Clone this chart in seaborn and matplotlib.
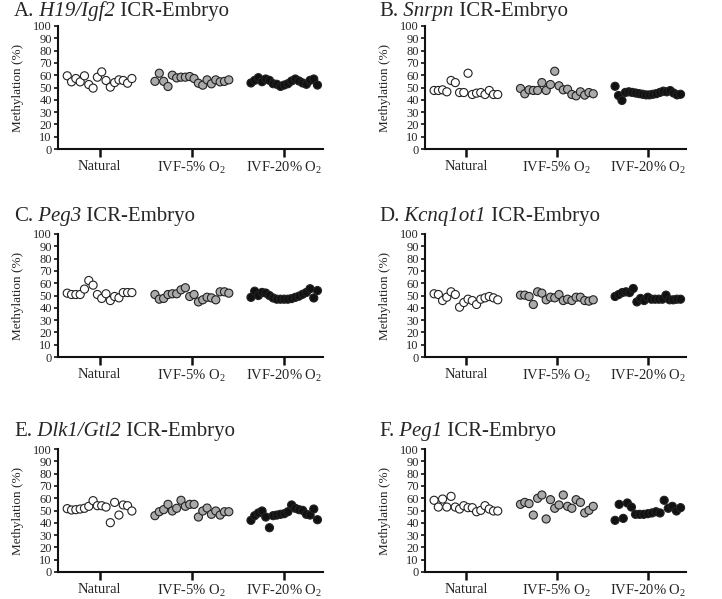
import numpy as np
import pandas as pd
import seaborn as sns
import matplotlib
matplotlib.use('Agg')
import matplotlib.pyplot as plt

sns.set_style('white')
plt.rcParams['font.family'] = ['Liberation Serif', 'DejaVu Serif']
plt.rcParams['mathtext.fontset'] = 'custom'
plt.rcParams['mathtext.rm'] = 'Liberation Serif'
plt.rcParams['mathtext.it'] = 'Liberation Serif:italic'

# Data (methylation %, each point one embryo)
groups = ['Natural', 'IVF-5% O$_2$', 'IVF-20% O$_2$']
panel_letters = ['A', 'B', 'C', 'D', 'E', 'F']
genes = ['H19/Igf2', 'Snrpn', 'Peg3', 'Kcnq1ot1', 'Dlk1/Gtl2', 'Peg1']

natural_A = [59.5, 54.6, 57.3, 54.6, 59.5, 52.4, 49.5, 58.4, 62.7, 55.7, 50.3, 54.0, 56.2, 55.7, 53.5, 57.3]
ivf5_A = [55.0, 61.6, 55.0, 50.8, 60.0, 57.8, 58.4, 58.4, 58.9, 57.3, 53.5, 51.9, 56.2, 53.0, 56.2, 54.6, 55.0, 56.2]
ivf20_A = [53.7, 55.8, 58.0, 54.7, 56.9, 55.8, 53.1, 52.6, 50.9, 52.0, 53.1, 55.3, 56.9, 55.3, 53.7, 52.6, 55.8, 56.9, 52.0]

natural_B = [47.6, 47.6, 48.1, 46.5, 55.7, 54.0, 45.9, 45.9, 61.6, 44.3, 45.4, 45.9, 44.3, 47.6, 44.3, 44.3]
ivf5_B = [49.2, 44.9, 48.1, 47.6, 47.6, 54.0, 47.6, 52.4, 63.2, 51.4, 48.1, 48.6, 44.3, 43.2, 46.5, 43.8, 45.9, 44.9]
ivf20_B = [51.0, 43.5, 39.5, 46.0, 46.5, 46.0, 45.5, 45.0, 44.5, 44.0, 44.0, 44.5, 45.0, 46.0, 47.0, 46.5, 47.5, 45.5, 44.0, 44.5]

natural_C = [51.9, 50.8, 50.8, 50.8, 55.2, 62.2, 58.4, 50.8, 47.6, 51.4, 45.9, 49.2, 48.1, 52.4, 52.4, 52.4]
ivf5_C = [50.8, 47.0, 47.6, 50.8, 51.4, 51.4, 54.6, 56.3, 49.2, 50.8, 44.8, 46.5, 48.6, 48.1, 46.5, 53.0, 53.0, 51.9]
ivf20_C = [48.5, 53.5, 50.0, 52.5, 52.0, 50.0, 48.0, 47.0, 47.0, 47.0, 47.0, 47.5, 48.5, 49.5, 51.0, 52.5, 55.5, 48.0, 54.0]

natural_D = [51.4, 50.8, 45.9, 48.6, 53.0, 50.8, 40.5, 44.3, 47.0, 45.9, 42.7, 47.0, 48.1, 49.2, 48.1, 46.5]
ivf5_D = [50.3, 50.3, 49.2, 42.7, 53.0, 51.9, 46.5, 48.6, 48.1, 50.8, 45.9, 47.0, 45.9, 48.6, 48.6, 45.9, 45.4, 46.5]
ivf20_D = [49.2, 50.8, 52.4, 53.0, 52.4, 55.7, 44.8, 47.6, 45.9, 48.6, 47.0, 47.0, 47.0, 47.0, 50.3, 46.5, 46.5, 47.0, 47.0]

natural_E = [51.5, 50.4, 50.7, 51.2, 51.8, 53.4, 58.0, 53.9, 53.9, 52.8, 40.1, 56.6, 46.3, 54.5, 53.9, 49.6]
ivf5_E = [45.8, 49.0, 50.7, 55.0, 49.6, 51.8, 58.3, 53.4, 55.0, 55.0, 44.7, 49.6, 52.0, 46.9, 49.6, 46.3, 49.0, 49.0]
ivf20_E = [42.0, 45.8, 48.0, 49.6, 44.7, 36.0, 45.8, 46.3, 46.9, 47.4, 49.0, 54.5, 51.8, 50.7, 50.1, 46.9, 46.3, 51.2, 42.5]

natural_F = [58.3, 52.8, 59.3, 52.8, 61.5, 52.8, 51.2, 53.9, 52.3, 52.3, 49.0, 50.1, 53.9, 51.2, 49.6, 49.6]
ivf5_F = [55.0, 56.6, 55.6, 46.3, 59.9, 62.6, 43.1, 58.8, 51.8, 54.5, 62.6, 53.4, 51.8, 58.8, 56.6, 48.0, 50.1, 53.4]
ivf20_F = [42.0, 55.0, 43.6, 56.1, 52.8, 46.9, 46.9, 46.9, 47.4, 48.0, 49.0, 48.0, 58.3, 51.8, 53.4, 49.6, 52.3]

panel_data = [
    (natural_A, ivf5_A, ivf20_A),
    (natural_B, ivf5_B, ivf20_B),
    (natural_C, ivf5_C, ivf20_C),
    (natural_D, ivf5_D, ivf20_D),
    (natural_E, ivf5_E, ivf20_E),
    (natural_F, ivf5_F, ivf20_F),
]

face_colors = {groups[0]: 'white', groups[1]: '#aaaaaa', groups[2]: '#111111'}
half_widths = [0.35, 0.40, 0.36]

W, H = 722, 599
fig = plt.figure(figsize=(W / 100, H / 100), dpi=100)

# axes boxes in pixels: left, right, top, bottom
lefts = [58, 425]
rights = [323, 686]
tops = [26, 234, 449]
bottoms = [149, 357, 572]
title_x = [14, 379]
title_base = [16, 221, 436]

titles = []
for k in range(6):
    row, col = k // 2, k % 2
    l, r = lefts[col], rights[col]
    t, b = tops[row], bottoms[row]
    ax = fig.add_axes([l / W, 1 - b / H, (r - l) / W, (b - t) / H])

    rows = []
    for g, vals in enumerate(panel_data[k]):
        offs = np.linspace(-half_widths[g], half_widths[g], len(vals))
        for o, v in zip(offs, vals):
            rows.append({'x': g + o, 'value': v, 'group': groups[g]})
    df = pd.DataFrame(rows)

    sns.scatterplot(data=df, x='x', y='value', hue='group', palette=face_colors,
                    edgecolor='#222222', linewidth=0.8, s=34, legend=False,
                    ax=ax, zorder=3, clip_on=False)

    ax.set_xlim(-0.45, 2.42)
    ax.set_ylim(0, 100)
    ax.set_xticks(range(3))
    ax.set_xticklabels(groups, fontsize=10.5)
    ax.set_yticks(range(0, 101, 10))
    ax.set_yticklabels([str(v) for v in range(0, 101, 10)], fontsize=9)
    ax.set_xlabel('')
    ax.set_ylabel('Methylation (%)', fontsize=9.5)
    ax.yaxis.set_label_coords(-0.13, 0.5)
    for side in ['top', 'right']:
        ax.spines[side].set_visible(False)
    for side in ['left', 'bottom']:
        ax.spines[side].set_linewidth(1.5)
        ax.spines[side].set_color('#111111')
    ax.tick_params(axis='y', direction='out', length=3, width=1.2, pad=1.5,
                   left=True, color='#111111')
    ax.tick_params(axis='x', direction='out', length=6, width=1.8, pad=2,
                   bottom=True, color='#111111')

    # title in three pieces: letter, italic gene name, rest
    y = 1 - title_base[row] / H
    parts = [(panel_letters[k] + '.', 'normal'), (' ' + genes[k], 'italic'),
             (' ICR-Embryo', 'normal')]
    titles.append((title_x[col] / W, y, parts))

fig.canvas.draw()
renderer = fig.canvas.get_renderer()
for x0, y, parts in titles:
    x = x0
    for s, style in parts:
        txt = fig.text(x, y, s, fontsize=15, style=style, ha='left', va='baseline')
        x += txt.get_window_extent(renderer).width / W

fig.savefig('out.png', dpi=100)
